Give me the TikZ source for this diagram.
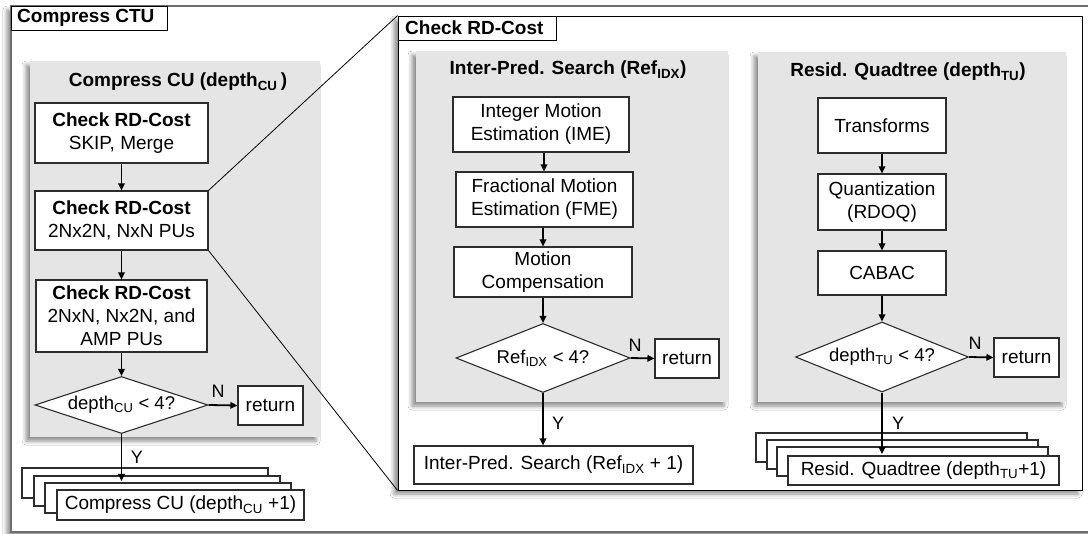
\documentclass[tikz,border=0pt]{standalone}
\usepackage{fontspec}
\setmainfont{Liberation Sans}
\usetikzlibrary{shapes.geometric,arrows.meta,shadows.blur}
\definecolor{panelgray}{RGB}{229,229,229}
\definecolor{boxline}{RGB}{45,45,45}
\definecolor{framegray}{RGB}{110,110,110}
\begin{document}
\begin{tikzpicture}[x=1pt,y=-1pt,
  shad/.style={blur shadow={shadow xshift=-4pt,shadow yshift=-4pt,shadow blur radius=4pt,shadow opacity=45}},
  frame/.style={rectangle,draw=black,line width=0.9pt,fill=white,inner sep=0pt,shad},
  panel/.style={rectangle,fill=panelgray,inner sep=0pt,shad},
  label/.style={rectangle,draw=black,line width=0.9pt,fill=white,inner sep=0pt},
  ltext/.style={font=\fontsize{19}{22}\selectfont\bfseries,anchor=west,inner sep=0pt},
  ptitle/.style={font=\fontsize{19}{22}\selectfont\bfseries,inner sep=0pt},
  box/.style={rectangle,draw=boxline,line width=1.1pt,fill=white,inner sep=0pt,align=center,font=\fontsize{19}{23}\selectfont},
  sbox/.style={rectangle,draw=boxline,line width=1.1pt,fill=white,inner sep=0pt,font=\fontsize{19}{23}\selectfont},
  dec/.style={diamond,draw=boxline,line width=1.1pt,fill=white,inner sep=0pt,aspect=3,font=\fontsize{18.5}{22}\selectfont},
  arr/.style={-{Triangle[length=7pt,width=6.5pt]},line width=1.8pt,black},
  yn/.style={font=\fontsize{18}{20}\selectfont,inner sep=0pt},
  zoomline/.style={line width=0.8pt,black}]
\useasboundingbox (0,0) rectangle (1088,534);
\clip (0,0) rectangle (1088,534);
\fill[white] (0,0) rectangle (1088,534);

% outer frame
\node[frame,draw=framegray,line width=1.5pt,minimum width=1100pt,minimum height=526pt] (ctu) at (561,269) {};
\node[label,minimum width=156pt,minimum height=24pt,anchor=north west] (ctulabel) at (11,6) {};
\node[ltext] (ctutext) at (17,18) {Compress CTU};

% check rd-cost frame
\node[frame,minimum width=684pt,minimum height=474pt] (rd) at (740,253) {};
\node[label,minimum width=158pt,minimum height=24pt,anchor=north west] (rdlabel) at (398,16) {};
\node[ltext] (rdtext) at (405,28) {Check RD-Cost};

% ---------- left: Compress CU ----------
\node[panel,minimum width=290pt,minimum height=376pt] (cupanel) at (175,249) {};
\node[ptitle] (cutitle) at (178,82) {Compress CU (depth\textsubscript{CU}\,)};
\node[box,minimum width=173pt,minimum height=60pt] (b1) at (121.5,133) {\textbf{Check RD-Cost}\\SKIP, Merge};
\node[box,minimum width=173pt,minimum height=59pt] (b2) at (121.5,220.5) {\textbf{Check RD-Cost}\\2Nx2N, NxN PUs};
\node[box,minimum width=171pt,minimum height=72pt] (b3) at (121.5,316) {\textbf{Check RD-Cost}\\2NxN, Nx2N, and\\AMP PUs};
\node[dec,minimum width=173pt,minimum height=57pt] (d1) at (121.5,405) {depth\textsubscript{CU} < 4?};
\node[box,minimum width=65pt,minimum height=39pt] (r1) at (270.5,405.5) {return};
\node[sbox,minimum width=246pt,minimum height=30pt] (cu0) at (145,483) {};
\node[sbox,minimum width=246pt,minimum height=30pt] (cu1) at (157,491) {};
\node[sbox,minimum width=246pt,minimum height=30pt] (cu2) at (168,498) {};
\node[sbox,minimum width=247pt,minimum height=30pt] (cu3) at (180.5,505) {Compress CU (depth\textsubscript{CU} +1)};
\coordinate (cuend) at (121.5,481);
\draw[arr] (b1.south) -- (b2.north);
\draw[arr] (b2.south) -- (b3.north);
\draw[arr] (b3.south) -- (d1.north);
\draw[arr] (d1.east) -- (r1.west);
\draw[arr] (d1.south) -- (cuend);
\node[yn] (n1) at (218,391) {N};
\node[yn] (y1) at (137,457) {Y};

% zoom lines
\draw[zoomline] (b2.north east) -- (rd.north west);
\draw[zoomline] (b2.south east) -- (rd.south west);

% ---------- middle: Inter-Pred. Search ----------
\node[panel,minimum width=312pt,minimum height=351pt] (ippanel) at (572,226.5) {};
\node[ptitle] (iptitle) at (568,70) {Inter-Pred. Search (Ref\textsubscript{IDX})};
\node[box,minimum width=176pt,minimum height=55pt] (ime) at (541,124.5) {Integer Motion\\Estimation (IME)};
\node[box,minimum width=177pt,minimum height=55pt] (fme) at (544.5,199.5) {Fractional Motion\\Estimation (FME)};
\node[box,minimum width=178pt,minimum height=50pt] (mc) at (543,272) {Motion\\Compensation};
\node[dec,minimum width=174pt,minimum height=69pt] (d2) at (543,358) {Ref\textsubscript{IDX} < 4?};
\node[box,minimum width=64pt,minimum height=39pt] (r2) at (687,358.5) {return};
\node[box,minimum width=279pt,minimum height=38pt] (ipnext) at (553.5,465) {Inter-Pred. Search (Ref\textsubscript{IDX} + 1)};
\draw[arr] (ime.south -| 544,0) -- (544,0 |- fme.north);
\draw[arr] (fme.south -| 543,0) -- (543,0 |- mc.north);
\draw[arr] (mc.south) -- (d2.north);
\draw[arr] (d2.east) -- (r2.west);
\draw[arr] (d2.south) -- (d2.south |- ipnext.north);
\node[yn] (n2) at (635,345) {N};
\node[yn] (y2) at (558,423) {Y};

% ---------- right: Resid. Quadtree ----------
\node[panel,minimum width=308pt,minimum height=350pt] (rqpanel) at (912,227) {};
\node[ptitle] (rqtitle) at (908,72) {Resid. Quadtree (depth\textsubscript{TU})};
\node[box,minimum width=128pt,minimum height=55pt] (tr) at (882,125.5) {Transforms};
\node[box,minimum width=128pt,minimum height=56pt] (qu) at (882,202) {Quantization\\(RDOQ)};
\node[box,minimum width=128pt,minimum height=44pt] (ca) at (882,273) {CABAC};
\node[dec,minimum width=173pt,minimum height=70pt] (d3) at (882,357) {depth\textsubscript{TU} < 4?};
\node[box,minimum width=65pt,minimum height=39pt] (r3) at (1026.5,357.5) {return};
\node[sbox,minimum width=271pt,minimum height=29pt] (tu0) at (891.5,447.5) {};
\node[sbox,minimum width=271pt,minimum height=29pt] (tu1) at (902.5,454.5) {};
\node[sbox,minimum width=271pt,minimum height=29pt] (tu2) at (912.5,461.5) {};
\node[sbox,minimum width=271pt,minimum height=29pt] (tu3) at (923.5,470.5) {Resid. Quadtree (depth\textsubscript{TU}+1)};
\coordinate (tuend) at (882,454);
\draw[arr] (tr.south) -- (qu.north);
\draw[arr] (qu.south) -- (ca.north);
\draw[arr] (ca.south) -- (d3.north);
\draw[arr] (d3.east) -- (r3.west);
\draw[arr] (d3.south) -- (tuend);
\node[yn] (n3) at (975,343) {N};
\node[yn] (y3) at (898,423) {Y};
\end{tikzpicture}
\end{document}
